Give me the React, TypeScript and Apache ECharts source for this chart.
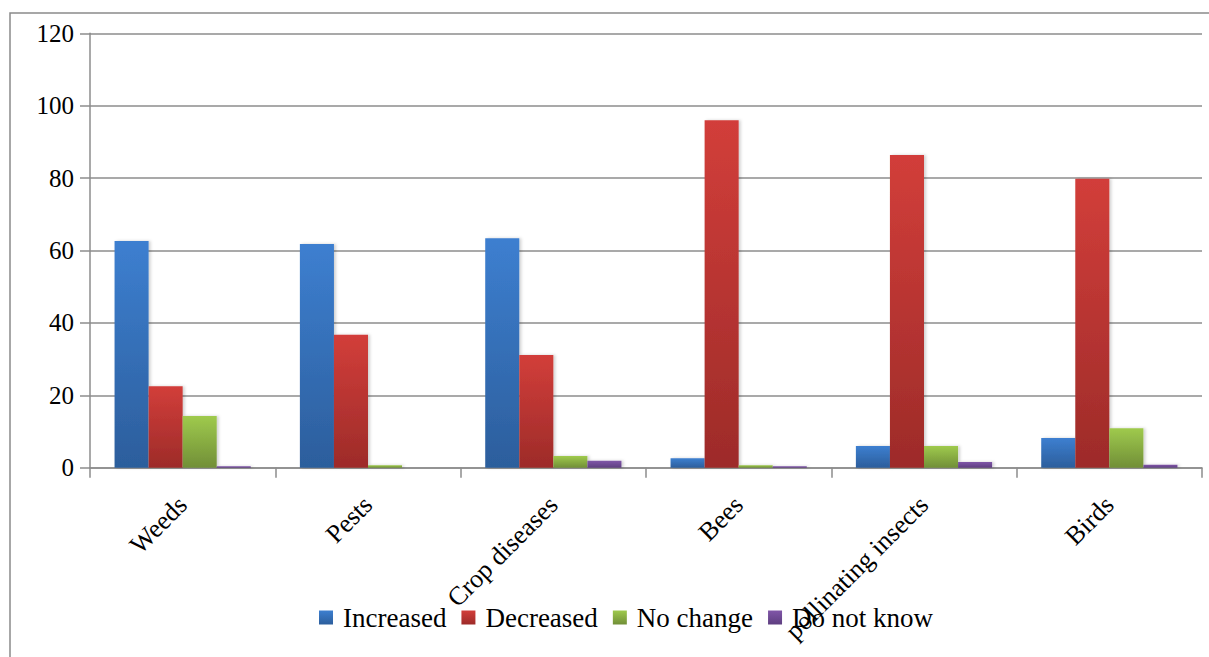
import React, { useEffect, useRef } from "react";
import * as echarts from "echarts";

const categories = ["Weeds", "Pests", "Crop diseases", "Bees", "pollinating insects", "Birds"];
const increased = [62.6, 61.8, 63.4, 2.6, 6.0, 8.2];
const decreased = [22.5, 36.7, 31.1, 96.0, 86.4, 79.8];
const noChange = [14.3, 0.7, 3.2, 0.7, 6.0, 10.9];
const doNotKnow = [0.4, 0, 1.9, 0.4, 1.6, 0.8];
const seriesNames = ["Increased", "Decreased", "No change", "Do not know"];

const FONT = '"Liberation Serif", "Times New Roman", serif';

const grad = (top: string, bottom: string) =>
  new echarts.graphic.LinearGradient(0, 0, 0, 1, [
    { offset: 0, color: top },
    { offset: 1, color: bottom },
  ]);

export default function App() {
  const ref = useRef<HTMLDivElement>(null);

  useEffect(() => {
    document.body.style.margin = "0";
    const chart = echarts.init(ref.current!, null, { renderer: "svg" });
    const palette = [
      ["#3d7fd0", "#2c5e9c"],
      ["#d23e3a", "#9d2b29"],
      ["#9fca4d", "#718f37"],
      ["#8056a8", "#5e3e80"],
    ];
    const values = [increased, decreased, noChange, doNotKnow];
    chart.setOption({
      animation: false,
      graphic: [
        {
          type: "rect",
          shape: { x: 10, y: 13, width: 1400, height: 800 },
          style: { fill: "none", stroke: "#8a8a8a", lineWidth: 1.5 },
          silent: true,
        },
      ],
      legend: {
        bottom: 21,
        left: 314,
        itemWidth: 14,
        itemHeight: 14,
        itemGap: 15,
        icon: "rect",
        textStyle: { fontFamily: FONT, fontSize: 27, color: "#000", padding: [0, 0, 0, 5] },
        data: seriesNames,
      },
      grid: { left: 90, right: 7, top: 33.3, bottom: 189.3, containLabel: false },
      xAxis: {
        type: "category",
        data: categories,
        axisLine: { lineStyle: { color: "#8c8c8c", width: 1.5 } },
        axisTick: { show: true, length: 10, lineStyle: { color: "#8c8c8c", width: 1.5 } },
        axisLabel: {
          rotate: 45,
          margin: 33,
          interval: 0,
          fontFamily: FONT,
          fontSize: 26,
          color: "#000",
        },
      },
      yAxis: {
        type: "value",
        min: 0,
        max: 120,
        interval: 20,
        axisLine: { show: true, lineStyle: { color: "#8c8c8c", width: 1.5 } },
        axisTick: { show: true, length: 10, lineStyle: { color: "#8c8c8c", width: 1.5 } },
        splitLine: { lineStyle: { color: "#8c8c8c", width: 1.5 } },
        axisLabel: { fontFamily: FONT, fontSize: 25, color: "#000", margin: 16 },
      },
      series: seriesNames.map((name, i) => ({
        name,
        type: "bar",
        data: values[i],
        barGap: "0%",
        barCategoryGap: "26.5%",
        itemStyle: {
          color: grad(palette[i][0], palette[i][1]),
          shadowColor: "rgba(0,0,0,0.18)",
          shadowBlur: 3,
          shadowOffsetX: 2,
        },
      })),
    });
    return () => chart.dispose();
  }, []);

  return <div ref={ref} style={{ width: 1209, height: 657 }} />;
}
